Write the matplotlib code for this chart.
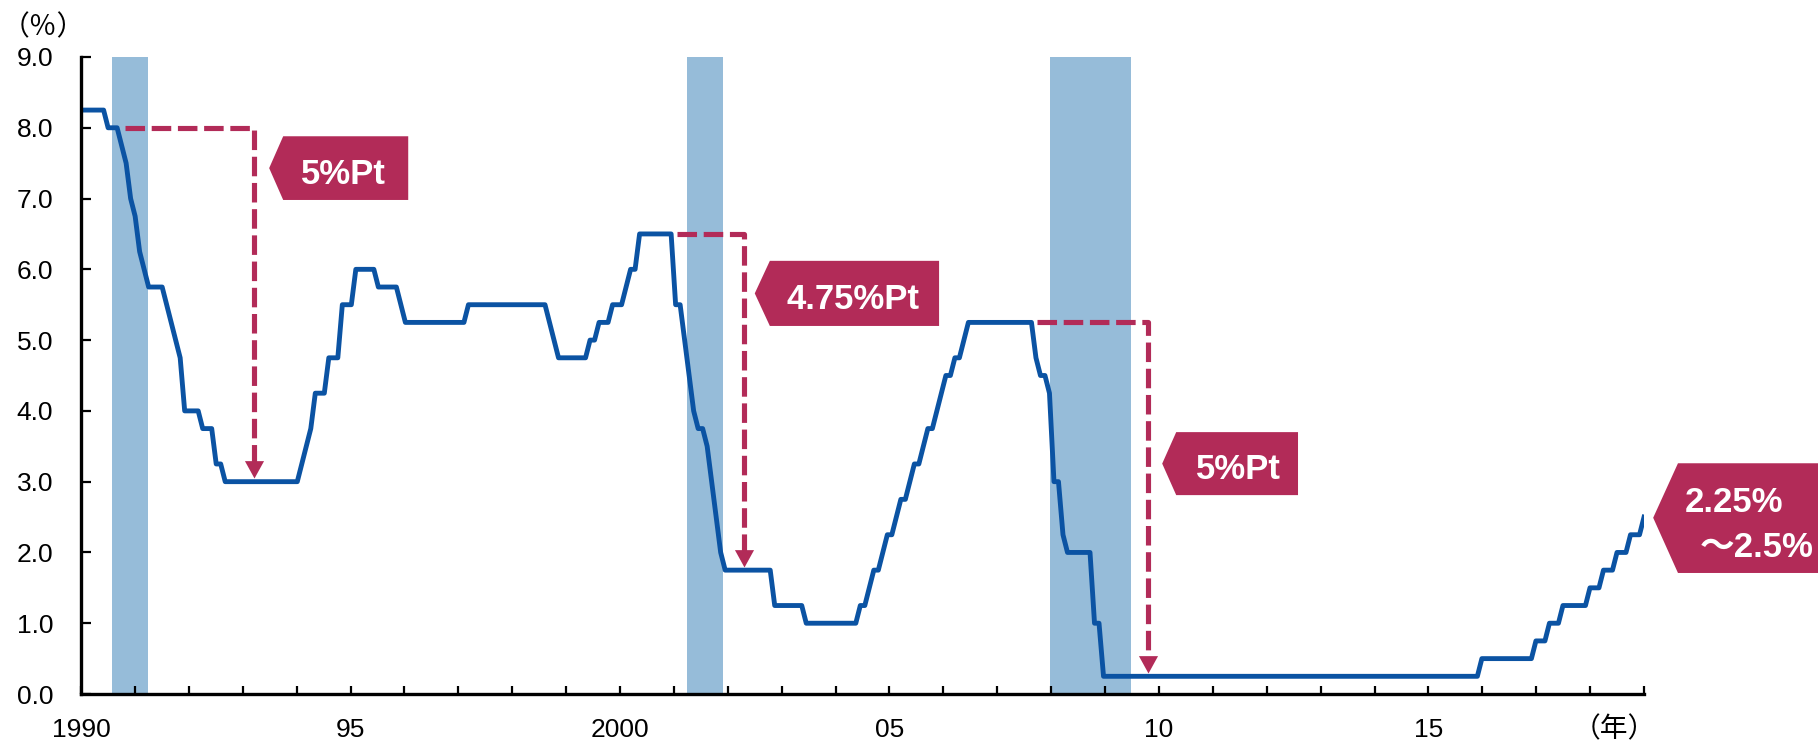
import numpy as np
import matplotlib
matplotlib.use("Agg")
import matplotlib.pyplot as plt
from matplotlib.patches import Polygon

# FF target rate (upper bound), month-end, %
rate_1990s = [
    8.25, 8.25, 8.25, 8.25, 8.25, 8.25, 8.00, 8.00, 8.00, 7.75, 7.50, 7.00,  # 1990
    6.75, 6.25, 6.00, 5.75, 5.75, 5.75, 5.75, 5.50, 5.25, 5.00, 4.75, 4.00,  # 1991
    4.00, 4.00, 4.00, 3.75, 3.75, 3.75, 3.25, 3.25, 3.00, 3.00, 3.00, 3.00,  # 1992
    3.00, 3.00, 3.00, 3.00, 3.00, 3.00, 3.00, 3.00, 3.00, 3.00, 3.00, 3.00,  # 1993
    3.00, 3.25, 3.50, 3.75, 4.25, 4.25, 4.25, 4.75, 4.75, 4.75, 5.50, 5.50,  # 1994
    5.50, 6.00, 6.00, 6.00, 6.00, 6.00, 5.75, 5.75, 5.75, 5.75, 5.75, 5.50,  # 1995
    5.25, 5.25, 5.25, 5.25, 5.25, 5.25, 5.25, 5.25, 5.25, 5.25, 5.25, 5.25,  # 1996
    5.25, 5.25, 5.50, 5.50, 5.50, 5.50, 5.50, 5.50, 5.50, 5.50, 5.50, 5.50,  # 1997
    5.50, 5.50, 5.50, 5.50, 5.50, 5.50, 5.50, 5.50, 5.25, 5.00, 4.75, 4.75,  # 1998
    4.75, 4.75, 4.75, 4.75, 4.75, 5.00, 5.00, 5.25, 5.25, 5.25, 5.50, 5.50,  # 1999
]
rate_2000s = [
    5.50, 5.75, 6.00, 6.00, 6.50, 6.50, 6.50, 6.50, 6.50, 6.50, 6.50, 6.50,  # 2000
    5.50, 5.50, 5.00, 4.50, 4.00, 3.75, 3.75, 3.50, 3.00, 2.50, 2.00, 1.75,  # 2001
    1.75, 1.75, 1.75, 1.75, 1.75, 1.75, 1.75, 1.75, 1.75, 1.75, 1.25, 1.25,  # 2002
    1.25, 1.25, 1.25, 1.25, 1.25, 1.00, 1.00, 1.00, 1.00, 1.00, 1.00, 1.00,  # 2003
    1.00, 1.00, 1.00, 1.00, 1.00, 1.25, 1.25, 1.50, 1.75, 1.75, 2.00, 2.25,  # 2004
    2.25, 2.50, 2.75, 2.75, 3.00, 3.25, 3.25, 3.50, 3.75, 3.75, 4.00, 4.25,  # 2005
    4.50, 4.50, 4.75, 4.75, 5.00, 5.25, 5.25, 5.25, 5.25, 5.25, 5.25, 5.25,  # 2006
    5.25, 5.25, 5.25, 5.25, 5.25, 5.25, 5.25, 5.25, 4.75, 4.50, 4.50, 4.25,  # 2007
    3.00, 3.00, 2.25, 2.00, 2.00, 2.00, 2.00, 2.00, 2.00, 1.00, 1.00, 0.25,  # 2008
    0.25, 0.25, 0.25, 0.25, 0.25, 0.25, 0.25, 0.25, 0.25, 0.25, 0.25, 0.25,  # 2009
]
rate_2010s = [
    0.25, 0.25, 0.25, 0.25, 0.25, 0.25, 0.25, 0.25, 0.25, 0.25, 0.25, 0.25,  # 2010
    0.25, 0.25, 0.25, 0.25, 0.25, 0.25, 0.25, 0.25, 0.25, 0.25, 0.25, 0.25,  # 2011
    0.25, 0.25, 0.25, 0.25, 0.25, 0.25, 0.25, 0.25, 0.25, 0.25, 0.25, 0.25,  # 2012
    0.25, 0.25, 0.25, 0.25, 0.25, 0.25, 0.25, 0.25, 0.25, 0.25, 0.25, 0.25,  # 2013
    0.25, 0.25, 0.25, 0.25, 0.25, 0.25, 0.25, 0.25, 0.25, 0.25, 0.25, 0.25,  # 2014
    0.25, 0.25, 0.25, 0.25, 0.25, 0.25, 0.25, 0.25, 0.25, 0.25, 0.25, 0.50,  # 2015
    0.50, 0.50, 0.50, 0.50, 0.50, 0.50, 0.50, 0.50, 0.50, 0.50, 0.50, 0.75,  # 2016
    0.75, 0.75, 1.00, 1.00, 1.00, 1.25, 1.25, 1.25, 1.25, 1.25, 1.25, 1.50,  # 2017
    1.50, 1.50, 1.75, 1.75, 1.75, 2.00, 2.00, 2.00, 2.25, 2.25, 2.25, 2.50,  # 2018
]

# recessions (fractional year)
recession_start = [1990.58, 2001.25, 2007.98]
recession_end = [1991.24, 2001.91, 2009.49]

# rate cuts: from / to levels and labels
cut_from = [8.00, 6.50, 5.25]
cut_to = [3.00, 1.75, 0.25]
cut_labels = ["5%Pt", "4.75%Pt", "5%Pt"]
latest_label = ["2.25%", "～2.5%"]

tick_years = list(range(1990, 2020))
tick_names = {1990: "1990", 1995: "95", 2000: "2000", 2005: "05", 2010: "10", 2015: "15"}

BLUE = "#0B53A3"
RED = "#B22B58"
SHADE = "#96BCD9"

plt.rcParams["font.family"] = ["Liberation Sans", "Noto Sans CJK JP"]

rates = np.array(rate_1990s + rate_2000s + rate_2010s)
x = 1990 + np.arange(len(rates)) * 29 / (len(rates) - 1)

fig = plt.figure(figsize=(18.18, 7.44), dpi=100)
ax = fig.add_axes([0.0446, 0.0672, 0.8597, 0.8562])

for s, e in zip(recession_start, recession_end):
    ax.axvspan(s, e, color=SHADE, lw=0, zorder=1)

ax.plot(x, rates, color=BLUE, lw=3.5, zorder=3, solid_joinstyle="round")

# dashed drop arrows
arrow_x = [(1990.82, 1993.20), (2001.06, 2002.30), (2007.74, 2009.80)]
tip = [(0, 0), (-0.55, 1), (0.55, 1)]
for (x0, x1), y0, y1 in zip(arrow_x, cut_from, cut_to):
    ax.plot([x0, x1, x1], [y0, y0, y1 + 0.25], color=RED, lw=3.7,
            dashes=(3.8, 1.3), zorder=4)
    ax.plot([x1], [y1 + 0.05], marker=tip, ms=25, color=RED, mec="none", zorder=4)

# pentagon labels
boxes = [
    (1993.49, 1993.75, 1996.07, 6.98, 7.88),
    (2002.50, 2002.78, 2005.92, 5.20, 6.12),
    (2010.06, 2010.32, 2012.58, 2.81, 3.70),
]
text_pos = [(1994.86, 7.20), (2004.32, 5.44), (2011.47, 3.04)]
for (xp, xl, xr, yb, yt), (tx, ty), lab in zip(boxes, text_pos, cut_labels):
    poly = Polygon([(xp, (yb + yt) / 2), (xl, yt), (xr, yt), (xr, yb), (xl, yb)],
                   closed=True, fc=RED, ec="none", zorder=5)
    ax.add_patch(poly)
    ax.text(tx, ty, lab, color="white", fontsize=25, fontweight="bold",
            ha="center", va="baseline", zorder=6)

poly = Polygon([(2019.17, 2.49), (2019.63, 3.26), (2023.5, 3.26), (2023.5, 1.71), (2019.63, 1.71)],
               closed=True, fc=RED, ec="none", zorder=5, clip_on=False)
ax.add_patch(poly)
ax.text(2019.76, 2.57, latest_label[0], color="white", fontsize=25, fontweight="bold",
        ha="left", va="baseline", zorder=6, clip_on=False)
ax.text(2022.15, 1.935, latest_label[1], color="white", fontsize=25, fontweight="bold",
        ha="right", va="baseline", zorder=6, clip_on=False)

ax.set_xlim(1990, 2019)
ax.set_ylim(0, 9)
ax.set_yticks(np.arange(0, 9.5, 1.0))
ax.set_yticklabels([f"{v:.1f}" for v in np.arange(0, 9.5, 1.0)])
ax.set_xticks(tick_years)
ax.set_xticklabels([tick_names.get(y, "") for y in tick_years])

for side in ["top", "right"]:
    ax.spines[side].set_visible(False)
for side in ["left", "bottom"]:
    ax.spines[side].set_linewidth(2.4)
    ax.spines[side].set_zorder(7)

ax.tick_params(axis="x", direction="in", length=6, width=1.6, pad=17, labelsize=19)
ax.tick_params(axis="y", direction="in", length=7, width=1.6, pad=20, labelsize=19)

fig.text(2 / 1818, 1 - 27 / 744, "（％）", fontsize=20, ha="left", va="center",
         family=["Noto Sans CJK JP"])
fig.text(1656 / 1818, 1 - 729 / 744, "（年）", fontsize=20, ha="right", va="center",
         family=["Noto Sans CJK JP"])

fig.savefig("out.png", dpi=100)
